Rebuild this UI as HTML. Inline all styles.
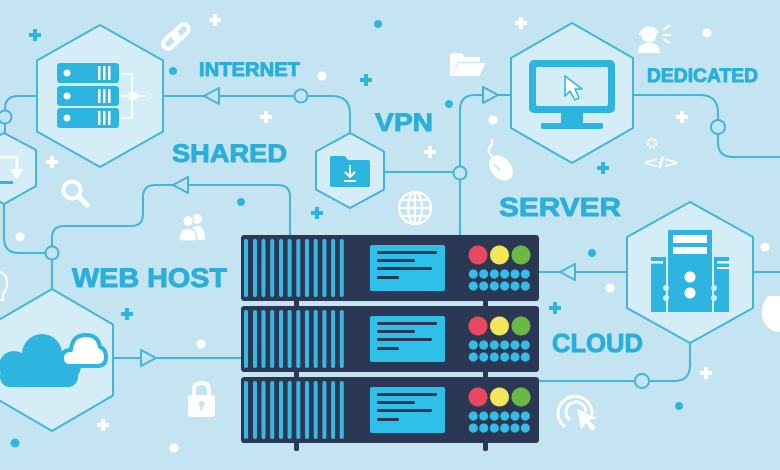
<!DOCTYPE html>
<html><head><meta charset="utf-8"><style>
html,body{margin:0;padding:0;background:#c4e4f2;}
svg{display:block;}
text{font-family:"Liberation Sans",Arial,sans-serif;font-weight:bold;fill:#2aafd9;}
.lbl{stroke:#2aafd9;stroke-width:0.9;stroke-linejoin:round;}
</style></head><body>
<svg width="780" height="470" viewBox="0 0 780 470" xmlns="http://www.w3.org/2000/svg">
<defs>
<g id="unit">
<rect x="241" y="235" width="298" height="66" rx="3" fill="#2b3853"/>
<g fill="#3ab8e3">
<rect x="244" y="239" width="4" height="58" rx="2"/><rect x="253" y="239" width="4" height="58" rx="2"/>
<rect x="261.5" y="239" width="4" height="58" rx="2"/><rect x="270.2" y="239" width="4" height="58" rx="2"/>
<rect x="279" y="239" width="4" height="58" rx="2"/><rect x="287.6" y="239" width="4" height="58" rx="2"/>
<rect x="296.3" y="239" width="4" height="58" rx="2"/><rect x="305" y="239" width="4" height="58" rx="2"/>
<rect x="313.7" y="239" width="4" height="58" rx="2"/><rect x="322.4" y="239" width="4" height="58" rx="2"/>
<rect x="331.1" y="239" width="4" height="58" rx="2"/><rect x="339.8" y="239" width="4" height="58" rx="2"/>
</g>
<rect x="370" y="245" width="75" height="46" rx="2" fill="#2fc0ea"/>
<g fill="#2b3853">
<rect x="377" y="251" width="60" height="3" rx="1.5"/><rect x="377" y="259" width="38" height="3" rx="1.5"/>
<rect x="377" y="267" width="55" height="3" rx="1.5"/><rect x="377" y="276" width="22" height="3" rx="1.5"/>
</g>
<circle cx="478" cy="255" r="9.5" fill="#e94862"/>
<circle cx="499.5" cy="255" r="9.5" fill="#f3e65b"/>
<circle cx="521" cy="255" r="9.5" fill="#6cb846"/>
<g fill="#35bde8">
<circle cx="473.3" cy="274" r="4.6"/><circle cx="483.7" cy="274" r="4.6"/><circle cx="494.3" cy="274" r="4.6"/><circle cx="504.7" cy="274" r="4.6"/><circle cx="515" cy="274" r="4.6"/><circle cx="525.3" cy="274" r="4.6"/>
<circle cx="473.3" cy="286" r="4.6"/><circle cx="483.7" cy="286" r="4.6"/><circle cx="494.3" cy="286" r="4.6"/><circle cx="504.7" cy="286" r="4.6"/><circle cx="515" cy="286" r="4.6"/><circle cx="525.3" cy="286" r="4.6"/>
</g>
</g>
</defs>

<rect width="780" height="470" fill="#c4e4f2"/>

<!-- connectors -->
<g fill="none" stroke="#43b5db" stroke-width="2">
<path d="M163,96 H294.5"/>
<path d="M307.5,96 H332 Q350,96 350,114 V133"/>
<path d="M37,96 H18 Q5,96 5,109 V110.5"/>
<path d="M5,123.5 V133"/>
<path d="M4,204 V238 Q4,253 19,253 H45.5"/>
<path d="M52,259.5 V289"/>
<path d="M52,246.5 V238 Q52,226 64,226 H131 Q143,226 143,214 V197 Q143,185 155,185 H278 Q290,185 290,197 V236"/>
<path d="M113,358 H242"/>
<path d="M384,172 H453.5"/>
<path d="M460,165.5 V110 Q460,95 475,95 H511"/>
<path d="M460,179.5 V236"/>
<path d="M633,95 H700 Q718,95 718,113 V120"/>
<path d="M718,134 V142 Q718,157 733,157 H780"/>
<path d="M627,272 H538"/>
<path d="M753,272 H780"/>
<path d="M690,343 V365 Q690,381 674,381 H649"/>
<path d="M635,381 H538"/>
</g>
<!-- arrows -->
<g fill="#c4e4f2" stroke="#43b5db" stroke-width="2" stroke-linejoin="round">
<polygon points="204,96 219,88 219,104"/>
<polygon points="173,185 188,177 188,193"/>
<polygon points="156,358 141,350 141,366"/>
<polygon points="498,95 483,87 483,103"/>
<polygon points="560,272 575,264 575,280"/>
</g>
<!-- connector circles -->
<g fill="#c4e4f2" stroke="#43b5db" stroke-width="2">
<circle cx="301" cy="96" r="6.5"/>
<circle cx="5" cy="117" r="6.5"/>
<circle cx="52" cy="253" r="6.5"/>
<circle cx="460" cy="173" r="6.5"/>
<circle cx="718" cy="127" r="7"/>
<circle cx="642" cy="381" r="7"/>
</g>

<!-- hexagons -->
<g fill="#d4edf6" stroke="#43b5db" stroke-width="2" stroke-linejoin="round">
<polygon points="100,25 163,60.5 163,131.5 100,167 37,131.5 37,60.5"/>
<polygon points="572,23 633,58 633,128 572,163 511,128 511,58"/>
<polygon points="690,202 753,237 753,308 690,343 627,308 627,237"/>
<polygon points="52,289 113,324.5 113,395.5 52,431 -9,395.5 -9,324.5"/>
<polygon points="350,133 384,151.5 384,189.5 350,208 316,189.5 316,151.5"/>
<polygon points="4,133 36,150 36,186 4,204 -28,186 -28,150"/>
</g>

<!-- hex1 server icon -->
<g fill="#2db5e0">
<rect x="57" y="63" width="62" height="20" rx="3"/>
<rect x="57" y="86" width="62" height="20" rx="3"/>
<rect x="57" y="108" width="62" height="20" rx="3"/>
</g>
<g fill="#fff">
<circle cx="67" cy="73" r="3.5"/><circle cx="67" cy="96" r="3.5"/><circle cx="67" cy="118" r="3.5"/>
<rect x="98" y="66" width="2.5" height="14"/><rect x="103" y="66" width="2.5" height="14"/><rect x="108" y="66" width="2.5" height="14"/>
<rect x="98" y="89" width="2.5" height="14"/><rect x="103" y="89" width="2.5" height="14"/><rect x="108" y="89" width="2.5" height="14"/>
<rect x="98" y="111" width="2.5" height="14"/><rect x="103" y="111" width="2.5" height="14"/><rect x="108" y="111" width="2.5" height="14"/>
<circle cx="133" cy="96" r="4.5"/>
</g>
<path d="M119,74 H132 V118 H119 M119,96 H146" fill="none" stroke="#fff" stroke-width="1.6"/>

<!-- small left hex icon -->
<path d="M0,157 H17 V170" fill="none" stroke="#fff" stroke-width="2.5"/>
<polygon points="10,169 24,169 17,179" fill="#fff"/>
<rect x="0" y="181" width="13" height="3" fill="#2db5e0"/>

<!-- VPN folder -->
<path d="M330,158 Q330,156 332,156 H345 L348,160 H368 Q370,160 370,162 V185 Q370,187 368,187 H332 Q330,187 330,185 Z" fill="#2db5e0"/>
<path d="M350,165 V177 M345,172 L350,177 L355,172" fill="none" stroke="#fff" stroke-width="2"/>
<rect x="344" y="180" width="12" height="2" fill="#fff"/>

<!-- monitor -->
<rect x="529" y="60" width="86" height="53" rx="5" fill="#2db5e0"/>
<rect x="536" y="67" width="72" height="39" rx="2" fill="#d4edf6"/>
<rect x="561" y="113" width="22" height="11" fill="#2db5e0"/>
<rect x="541" y="123" width="62" height="6" rx="2" fill="#2db5e0"/>
<polygon points="565,76 565,96 570,91 575,100 579,98 575,89 582,89" fill="#fff" stroke="#2db5e0" stroke-width="1.5" stroke-linejoin="round"/>

<!-- towers -->
<g fill="#2db5e0">
<rect x="651" y="257" width="15" height="55"/>
<rect x="714" y="257" width="15" height="55"/>
<rect x="668" y="230" width="44" height="82"/>
</g>
<g fill="#fff">
<rect x="673" y="235" width="34" height="8"/>
<rect x="673" y="247" width="34" height="7"/>
<circle cx="690" cy="277" r="5.5"/><circle cx="690" cy="293" r="5.5"/>
<rect x="651" y="261" width="12" height="2.5"/>
<rect x="717" y="261" width="12" height="2.5"/>
<rect x="717" y="267" width="12" height="2"/>
</g>
<g fill="#d4edf6">
<circle cx="666" cy="288" r="3"/><circle cx="666" cy="298" r="3"/>
<circle cx="714" cy="288" r="3"/><circle cx="714" cy="298" r="3"/>
</g>

<!-- clouds -->
<g fill="#2db5e0">
<circle cx="42" cy="354" r="20"/>
<circle cx="14" cy="366" r="15"/>
<circle cx="66" cy="366" r="15"/>
<rect x="0" y="366" width="78" height="21" rx="10"/>
</g>
<path d="M70,366 Q62,366 62,358 Q62,350 71,350 Q72,335 86,335 Q98,335 100,347 Q106,349 106,357 Q106,366 97,366 Z" fill="#fff" stroke="#2db5e0" stroke-width="4" stroke-linejoin="round"/>

<!-- server rack -->
<rect x="294" y="299" width="5" height="9" fill="#2b3853"/>
<rect x="483" y="299" width="5" height="9" fill="#2b3853"/>
<rect x="294" y="370" width="5" height="9" fill="#2b3853"/>
<rect x="483" y="370" width="5" height="9" fill="#2b3853"/>
<rect x="294" y="440" width="5" height="11" rx="2" fill="#2b3853"/>
<rect x="483" y="440" width="5" height="11" rx="2" fill="#2b3853"/>
<use href="#unit"/>
<use href="#unit" transform="translate(0,71)"/>
<use href="#unit" transform="translate(0,142)"/>

<!-- labels -->
<text class="lbl" x="199" y="76" font-size="19" textLength="101" lengthAdjust="spacingAndGlyphs">INTERNET</text>
<text class="lbl" x="172" y="162" font-size="25" textLength="115" lengthAdjust="spacingAndGlyphs">SHARED</text>
<text class="lbl" x="375" y="131" font-size="25" textLength="58" lengthAdjust="spacingAndGlyphs">VPN</text>
<text class="lbl" x="647" y="82" font-size="19" textLength="111" lengthAdjust="spacingAndGlyphs">DEDICATED</text>
<text class="lbl" x="499" y="216" font-size="26" textLength="122" lengthAdjust="spacingAndGlyphs">SERVER</text>
<text class="lbl" x="72" y="287" font-size="27" textLength="155" lengthAdjust="spacingAndGlyphs">WEB HOST</text>
<text class="lbl" x="552" y="352" font-size="26" textLength="91" lengthAdjust="spacingAndGlyphs">CLOUD</text>

<!-- plus signs -->
<g fill="#2db5e0">
<path d="M33,29h4v4h4v4h-4v4h-4v-4h-4v-4h4z"/>
<path d="M364,74h4v4h4v4h-4v4h-4v-4h-4v-4h4z"/>
<path d="M315,207h4v4h4v4h-4v4h-4v-4h-4v-4h4z"/>
<path d="M601,162h4v4h4v4h-4v4h-4v-4h-4v-4h4z"/>
<path d="M125,308h4v4h4v4h-4v4h-4v-4h-4v-4h4z"/>
<path d="M553,302h4v4h4v4h-4v4h-4v-4h-4v-4h4z"/>
</g>
<g fill="#fff">
<path d="M213,14h4v4h4v4h-4v4h-4v-4h-4v-4h4z"/>
<path d="M264,111h4v4h4v4h-4v4h-4v-4h-4v-4h4z"/>
<path d="M50,156h4v4h4v4h-4v4h-4v-4h-4v-4h4z"/>
<path d="M519,17h4v4h4v4h-4v4h-4v-4h-4v-4h4z"/>
<path d="M428,146h4v4h4v4h-4v4h-4v-4h-4v-4h4z"/>
<path d="M680,111h4v4h4v4h-4v4h-4v-4h-4v-4h4z"/>
<path d="M101,419h4v4h4v4h-4v4h-4v-4h-4v-4h4z"/>
<path d="M704,367h4v4h4v4h-4v4h-4v-4h-4v-4h4z"/>
</g>
<!-- dots -->
<g fill="#2db5e0">
<circle cx="173" cy="71" r="4"/><circle cx="241" cy="202" r="4"/><circle cx="378" cy="24" r="4"/>
<circle cx="449" cy="104" r="4"/><circle cx="592" cy="253" r="4"/><circle cx="15" cy="443" r="4.5"/>
<circle cx="679" cy="406" r="4"/>
</g>
<g fill="#fff">
<circle cx="20" cy="237" r="4.5"/><circle cx="322" cy="76" r="4.5"/><circle cx="493" cy="120" r="4.5"/>
<circle cx="707" cy="33" r="4.5"/><circle cx="201" cy="344" r="4.5"/><circle cx="174" cy="448" r="4.5"/>
<circle cx="610" cy="288" r="4.5"/><circle cx="765" cy="247" r="4.5"/>
</g>

<!-- white icons -->
<g fill="none" stroke="#fff" stroke-width="4" stroke-linecap="round">
<rect x="162" y="36" width="18" height="10" rx="5" transform="rotate(-45 171 41)"/>
<rect x="172" y="27" width="18" height="10" rx="5" transform="rotate(-45 181 32)"/>
<circle cx="72" cy="190" r="8.5"/>
<path d="M79,197 L87,205" stroke-width="5"/>
<path d="M194,396 V390 Q194,383 201.5,383 Q209,383 209,390 V396"/>
</g>
<!-- people -->
<g fill="#fff">
<circle cx="197" cy="219" r="5"/>
<path d="M189,240 Q189,226 197,226 Q205,226 205,240 Z"/>
<circle cx="188" cy="221" r="5.5" stroke="#c4e4f2" stroke-width="1.5"/>
<path d="M179,241 Q179,228 188,228 Q197,228 197,241 Z" stroke="#c4e4f2" stroke-width="1.5"/>
</g>
<!-- lock -->
<rect x="188" y="395" width="27" height="22" rx="3" fill="#fff"/>
<circle cx="201.5" cy="404" r="3" fill="#c4e4f2"/>
<rect x="200.5" y="405" width="2" height="6" fill="#c4e4f2"/>
<!-- globe -->
<g fill="none" stroke="#fff" stroke-width="2.2">
<circle cx="415" cy="208" r="16"/>
<ellipse cx="415" cy="208" rx="7" ry="16"/>
<path d="M415,192 V224 M399,208 H431 M401,200 H429 M401,216 H429"/>
</g>
<!-- mouse -->
<ellipse cx="501" cy="168" rx="10" ry="14" transform="rotate(-40 501 168)" fill="#fff"/>
<path d="M494,164 L500,171" stroke="#c4e4f2" stroke-width="1.5"/>
<path d="M494,158 Q486,152 490,147 Q494,143 491,139" fill="none" stroke="#fff" stroke-width="2"/>
<!-- folder -->
<path d="M450,56 Q450,53 453,53 H462 L465,57 H480 V62 H458 L452,76 H450 Z" fill="#fff"/>
<path d="M459,63 H486 L479,76 H452 Z" fill="#fff"/>
<!-- headset person -->
<g fill="#fff">
<circle cx="649" cy="35" r="7.5"/>
<path d="M638,53 Q638,43 649,43 Q660,43 660,53 Z"/>
</g>
<g fill="none" stroke="#fff" stroke-width="2">
<path d="M640,35 A9.5,9.5 0 0 1 658,33"/>
<path d="M663,30 L670,25 M663,35 H671 M663,39 L670,43"/>
</g>
<!-- gear + code -->
<circle cx="652" cy="143" r="4" fill="none" stroke="#fff" stroke-width="3" stroke-dasharray="2 1.5"/>
<text x="644" y="168" font-size="16" style="fill:#fff" textLength="34" lengthAdjust="spacingAndGlyphs">&lt;/&gt;</text>
<!-- click icon -->
<g fill="none" stroke="#fff" stroke-width="3">
<path d="M570,420 A10,10 0 1 1 586,412"/>
<path d="M565,427 A17,17 0 1 1 592,415"/>
</g>
<polygon points="577,409 597,418 589,420 596,428 592,431 586,423 581,429" fill="#fff"/>
<!-- pie at right edge -->
<path d="M780,296 L768,296 Q762,302 762,314 A18,18 0 0 0 780,332 Z" fill="#fff"/>
<!-- bulb partial -->
<path d="M0,272 Q7,274 7,283 Q7,290 3,294 V300 H0" fill="none" stroke="#fff" stroke-width="2"/>
</svg>
</body></html>
